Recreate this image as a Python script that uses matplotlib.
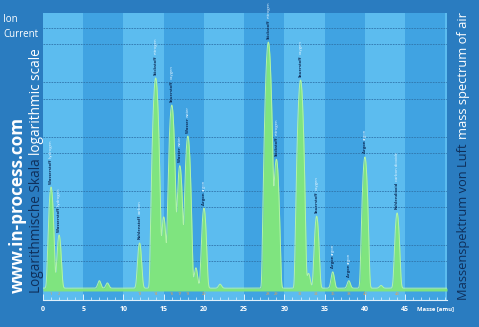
import numpy as np
import matplotlib.pyplot as plt
from matplotlib.ticker import MultipleLocator

# peaks (mass in amu, ion current, log scale)
masses = [1, 2, 7, 8, 12, 14, 15, 16, 17, 18, 19, 20, 22, 28, 29, 32, 33, 34, 36, 38, 40, 42, 44]
heights = [11.7, 1.53, 0.22, 0.2, 1.09, 1200, 3.3, 380, 29, 102, 0.38, 4.8, 0.19,
           5500, 38, 1100, 0.3, 3.4, 0.32, 0.22, 42, 0.18, 3.9]
baseline = 0.16

label_masses = [1, 2, 12, 14, 16, 17, 18, 20, 28, 29, 32, 34, 36, 38, 40, 44]
label_de = ['Wasserstoff', 'Wasserstoff', 'Kohlenstoff', 'Stickstoff', 'Sauerstoff', 'Wasser',
            'Wasser', 'Argon', 'Stickstoff', 'Stickstoff', 'Sauerstoff', 'Sauerstoff',
            'Argon', 'Argon', 'Argon', 'Kohlendioxid']
label_en = ['hydrogen', 'hydrogen', 'carbon', 'nitrogen', 'oxygen', 'water', 'water', 'argon',
            'nitrogen', 'nitrogen', 'oxygen', 'oxygen', 'argon', 'argon', 'argon', 'carbon dioxide']

plt.rcParams['font.family'] = ['Open Sans', 'DejaVu Sans']

frame = '#2a7cc0'
light = '#5cbcef'
dark = '#40a3e2'
navy = '#0f2f5a'
green = '#7fe47f'
edge = '#b2f3a8'
orange = '#f0a040'

fig = plt.figure(figsize=(4.79, 3.27), dpi=100, facecolor=frame)
ax = fig.add_axes([43 / 479, 27 / 327, 404 / 479, 287 / 327])
ax.set_facecolor(light)

# stripes every 5 amu
for i, x0 in enumerate(range(0, 50, 5)):
    ax.axvspan(x0, x0 + 5, color=light if i % 2 == 0 else dark, lw=0, zorder=0)

# peak shapes
sigma = 0.18
x = np.linspace(0, 50.2, 6000)
y = np.full_like(x, baseline)
for m, h in zip(masses, heights):
    y += (h - baseline) * np.exp(-(x - m) ** 2 / (2 * sigma ** 2))

ax.set_yscale('log')
ax.set_ylim(10 ** -1.014, 10 ** 4.277)
ax.set_xlim(0, 50.2)

for k in range(0, 5):
    for v in (10 ** k, 5 * 10 ** (k - 1)):
        ax.axhline(v, color='#2f74aa', lw=0.6, ls=(0, (2, 1.2)), zorder=1)

ax.fill_between(x, 0.142, y, color=green, lw=0, zorder=2)
ax.plot(x, y, color=edge, lw=0.7, zorder=3)

# peak labels, German in navy then English in white above it
for m, de, en in zip(label_masses, label_de, label_en):
    h = heights[masses.index(m)]
    t1 = ax.annotate(de, xy=(m, h), xytext=(0, 2.5), textcoords='offset points',
                     rotation=90, ha='center', va='bottom', fontsize=3.0,
                     color=navy, fontweight='bold', zorder=5)
    ax.annotate(en, xy=(0.5, 1), xycoords=t1, xytext=(0, 0.8), textcoords='offset points',
                rotation=90, ha='center', va='bottom', fontsize=3.0,
                color='#e8f6ff', zorder=5)

# small orange mass numbers just above the axis
for m in label_masses:
    ax.text(m, 0.015, str(m), transform=ax.get_xaxis_transform(), color=orange,
            fontsize=2.8, ha='center', va='bottom', zorder=6)

for s in ['left', 'right', 'top']:
    ax.spines[s].set_visible(False)
ax.spines['bottom'].set_color('#dff0fb')
ax.spines['bottom'].set_linewidth(0.8)
ax.set_yticks([])
ax.yaxis.set_minor_locator(plt.NullLocator())
ax.xaxis.set_minor_locator(MultipleLocator(1))
ax.set_xticks(range(0, 50, 5))
ax.tick_params(axis='x', which='major', direction='in', length=4, width=0.7,
               color='#dff0fb', labelcolor='white', labelsize=5, pad=4)
ax.tick_params(axis='x', which='minor', direction='in', length=2, width=0.5, color='#dff0fb')
for lab in ax.get_xticklabels():
    lab.set_fontweight('bold')

fig.text(417 / 479, 1 - 309 / 327, 'Masse [amu]', color='white', fontsize=4.2,
         ha='left', va='center', fontweight='bold')

fig.text(3 / 479, 1 - 14 / 327, 'Ion\nCurrent', color='white', fontsize=7,
         ha='left', va='top', linespacing=1.5)

# left side texts
ax.annotate('www.in-process.com', xy=(18, 327 - 293), xycoords='figure pixels',
            rotation=90, ha='center', va='bottom', fontsize=12.3, fontweight='bold',
            color='white', annotation_clip=False)
left1 = ax.annotate('Logarithmische Skala', xy=(37, 327 - 293), xycoords='figure pixels',
                    rotation=90, ha='center', va='bottom', fontsize=9.8,
                    color=navy, annotation_clip=False)
ax.annotate('logarithmic scale', xy=(0.5, 1), xycoords=left1, xytext=(0, 2),
            textcoords='offset points', rotation=90, ha='center', va='bottom',
            fontsize=9.8, color='white', annotation_clip=False)

# right side texts
right1 = ax.annotate('Massenspektrum von Luft', xy=(463, 327 - 300), xycoords='figure pixels',
                     rotation=90, ha='center', va='bottom', fontsize=9.3,
                     color=navy, annotation_clip=False)
ax.annotate('mass spectrum of air', xy=(0.5, 1), xycoords=right1, xytext=(0, 3),
            textcoords='offset points', rotation=90, ha='center', va='bottom',
            fontsize=9.3, color='white', annotation_clip=False)

fig.savefig('out.png', dpi=100, facecolor=frame)
